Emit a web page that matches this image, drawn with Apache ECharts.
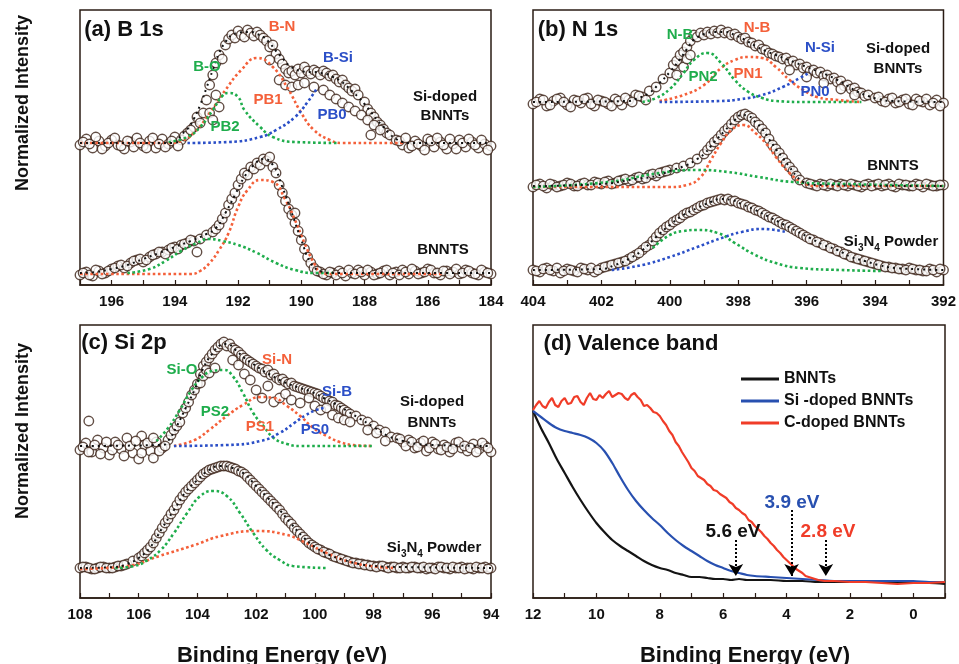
<!DOCTYPE html>
<html>
<head>
<meta charset="utf-8">
<script src="https://cdn.jsdelivr.net/npm/echarts@6/dist/echarts.min.js"></script>
<style>
  html, body { margin: 0; padding: 0; background: #fff; }
  #chart { width: 959px; height: 664px; }
</style>
</head>
<body>
<div id="chart"></div>
<script>
// ---- (a) B 1s ----
const bSiDoped = [[197.0,140],[196.8,146],[196.6,137],[196.4,144],[196.2,139],[196.0,145],[195.8,140],[195.6,136],[195.4,143],[195.2,147],[195.0,139],[194.8,144],[194.6,137],[194.4,146],[194.2,141],[194.0,148],[193.8,145],[193.6,152],[193.4,158],[193.3,168],[193.2,162],[193.1,172],[193.0,185],[192.9,200],[192.8,210],[192.7,222],[192.6,230],[192.5,226],[192.4,240],[192.3,246],[192.2,250],[192.1,247],[192.0,254],[191.9,250],[191.8,248],[191.7,255],[191.6,252],[191.5,249],[191.4,253],[191.3,250],[191.2,247],[191.1,244],[191.0,238],[190.9,240],[190.8,231],[190.7,226],[190.6,221],[190.5,216],[190.4,212],[190.3,214],[190.2,210],[190.1,216],[190.0,212],[189.9,218],[189.8,214],[189.7,211],[189.6,215],[189.5,213],[189.4,210],[189.3,214],[189.2,212],[189.1,209],[189.0,210],[188.9,206],[188.8,203],[188.7,205],[188.6,200],[188.5,197],[188.4,194],[188.3,196],[188.2,190],[188.0,183],[187.9,176],[187.8,172],[187.7,168],[187.6,163],[187.5,160],[187.4,156],[187.3,152],[187.2,150],[187.0,145],[186.8,140],[186.6,137],[186.4,144],[186.2,139],[186.0,146],[185.8,138],[185.6,143],[185.4,136],[185.2,141],[185.0,145],[184.8,138],[184.6,143],[184.4,137],[184.2,141],[184.0,139],
  [192.9,172],[192.8,165],[192.6,178],[192.7,190],[191.0,225],[190.7,205],[190.5,200],[190.3,198],[190.1,200],[189.9,202],[189.6,198],[189.3,195],[189.1,190],[188.9,186],[188.7,182],[188.5,178],[188.3,174],[188.1,170],[187.9,165],[187.7,160],[187.5,155],[187.8,150],
  [196.9,143],[196.7,141],[196.5,148],[196.3,136],[196.1,142],[195.9,147],[195.7,139],[195.5,144],[195.3,138],[195.1,142],[194.9,137],[194.7,147],[194.5,141],[194.3,138],[194.1,144],[193.9,139],[193.7,149],[193.5,155],[186.9,144],[186.7,147],[186.5,139],[186.3,141],[186.1,135],[185.9,144],[185.7,147],[185.5,140],[185.3,146],[185.1,136],[184.9,142],[184.7,146],[184.5,140],[184.3,145],[184.1,135]];
const bSiDopedFit = [[197,142],[194.0,142],[193.8,150],[193.6,156],[193.4,166],[193.2,180],[193.0,197],[192.8,215],[192.6,232],[192.4,243],[192.2,250],[192.0,252],[191.8,253],[191.6,253],[191.4,251],[191.2,248],[191.0,242],[190.8,234],[190.6,227],[190.4,220],[190.2,216],[190.0,214],[189.8,213],[189.6,213],[189.4,212],[189.2,211],[189.0,208],[188.8,205],[188.6,200],[188.4,194],[188.2,188],[188.0,181],[187.8,173],[187.6,165],[187.4,158],[187.2,151],[187.0,146],[186.8,143],[186.6,142],[184,142]];
const bPB2 = [[194.2,143],[193.6,148],[193.2,158],[192.8,175],[192.5,189],[192.3,192],[192.0,188],[191.8,175],[191.3,158],[190.9,148],[190.2,143],[188.8,142]];
const bPB1 = [[197,142],[194.2,142],[193.8,144],[193.4,152],[192.9,172],[192.4,195],[191.9,215],[191.4,227],[190.9,218],[190.4,195],[190.0,172],[189.6,155],[189.1,145],[188.7,142],[186.7,142]];
const bPB0 = [[193.6,142],[192.3,143],[191.3,148],[190.8,155],[190.2,168],[189.8,183],[189.5,197]];

const bBnnts = [[197.0,10],[196.8,13],[196.6,9],[196.4,14],[196.2,12],[196.0,16],[195.8,19],[195.6,17],[195.4,22],[195.2,25],[195.0,23],[194.8,28],[194.6,31],[194.4,33],[194.2,35],[194.0,38],[193.8,40],[193.6,42],[193.4,44],[193.3,33],[193.2,46],[193.0,50],[192.8,53],[192.7,56],[192.6,60],[192.5,66],[192.4,72],[192.3,80],[192.2,86],[192.1,92],[192.0,100],[191.9,106],[191.8,112],[191.7,110],[191.6,118],[191.5,116],[191.4,122],[191.3,120],[191.2,126],[191.1,124],[191.0,128],[190.9,118],[190.8,112],[190.7,100],[190.6,92],[190.5,84],[190.4,76],[190.3,70],[190.2,62],[190.1,54],[190.0,45],[189.9,36],[189.8,28],[189.7,22],[189.6,17],[189.4,13],[189.2,10],[189.0,12],[188.8,14],[188.6,9],[188.4,12],[188.2,15],[188.0,10],[187.8,13],[187.6,11],[187.4,14],[187.2,10],[187.0,13],[186.8,15],[186.6,11],[186.4,14],[186.2,12],[186.0,16],[185.8,12],[185.6,10],[185.4,14],[185.2,13],[185.0,11],[184.8,15],[184.6,12],[184.4,10],[184.2,13],[184.0,11],[190.2,72],
  [196.9,12],[196.7,10],[196.5,15],[196.3,11],[196.1,14],[195.9,17],[195.7,20],[195.5,19],[195.3,24],[195.1,26],[194.9,25],[194.7,30],[194.5,33],[194.3,31],[194.1,37],[193.9,36],[193.7,41],[193.5,45],[189.5,14],[189.3,11],[189.1,13],[188.9,10],[188.7,12],[188.5,15],[188.3,11],[188.1,13],[187.9,15],[187.7,10],[187.5,12],[187.3,15],[187.1,12],[186.9,10],[186.7,13],[186.5,16],[186.3,11],[186.1,13],[185.9,15],[185.7,12],[185.5,14],[185.3,11],[185.1,16],[184.9,12],[184.7,14],[184.5,11],[184.3,15],[184.1,12]];
const bBnntsFit = [[197,12],[196.5,13],[196,16],[195.5,20],[195,26],[194.5,32],[194,38],[193.5,44],[193,51],[192.7,57],[192.4,72],[192.1,90],[191.8,108],[191.5,120],[191.2,126],[190.9,120],[190.6,98],[190.3,72],[190.0,45],[189.7,22],[189.4,14],[189.0,12],[184,12]];
const bBnntsBN = [[197,11],[193.5,11],[193.2,14],[192.9,22],[192.6,35],[192.3,52],[192.0,78],[191.7,95],[191.3,105],[190.9,103],[190.5,85],[190.2,65],[189.9,42],[189.6,22],[189.4,13],[189.1,11],[185.5,11]];
const bBnntsBO = [[195.5,12],[194.8,16],[194.3,24],[193.8,34],[193.3,42],[192.9,46],[192.5,44],[192.0,40],[191.4,32],[190.8,22],[190.2,15],[189.6,12],[189.0,12]];

// ---- (b) N 1s ----
const nSiDoped = [[404.0,181],[403.8,186],[403.6,179],[403.4,184],[403.2,187],[403.0,180],[402.8,185],[402.6,182],[402.4,187],[402.2,179],[402.0,184],[401.8,181],[401.6,186],[401.4,180],[401.2,185],[401.0,190],[400.8,188],[400.6,194],[400.4,198],[400.2,206],[400.0,212],[399.9,220],[399.8,224],[399.7,230],[399.6,233],[399.5,238],[399.4,244],[399.3,250],[399.2,248],[399.1,252],[399.0,250],[398.9,253],[398.8,251],[398.7,254],[398.6,252],[398.5,255],[398.4,252],[398.3,253],[398.2,250],[398.1,251],[398.0,248],[397.9,246],[397.8,247],[397.7,243],[397.6,242],[397.5,239],[397.4,240],[397.3,236],[397.2,235],[397.1,232],[397.0,231],[396.9,229],[396.8,228],[396.7,226],[396.6,227],[396.5,223],[396.4,224],[396.3,220],[396.2,221],[396.1,217],[396.0,218],[395.9,214],[395.8,215],[395.7,212],[395.6,213],[395.5,209],[395.4,210],[395.3,206],[395.2,207],[395.1,203],[395.0,204],[394.9,199],[394.8,200],[394.7,196],[394.6,197],[394.5,193],[394.4,192],[394.3,189],[394.2,190],[394.0,187],[393.8,184],[393.6,186],[393.4,182],[393.2,185],[393.0,181],[392.8,186],[392.6,183],[392.4,180],[392.2,185],[392.0,182],
  [399.8,210],[399.6,218],[399.5,226],[399.4,230],[396.5,215],[396.0,208],[395.5,202],[395.0,196],[394.6,190],
  [403.9,183],[403.7,185],[403.5,180],[403.3,186],[403.1,183],[402.9,178],[402.7,184],[402.5,186],[402.3,181],[402.1,185],[401.9,183],[401.7,179],[401.5,184],[401.3,187],[401.1,183],[400.9,189],[400.7,185],[393.9,188],[393.7,183],[393.5,187],[393.3,183],[393.1,186],[392.9,180],[392.7,184],[392.5,186],[392.3,182],[392.1,179]];
const nSiDopedFit = [[404,183],[401.2,184],[401.0,186],[400.6,192],[400.3,202],[400.0,213],[399.7,226],[399.5,236],[399.3,245],[399.0,251],[398.7,253],[398.4,253],[398.1,250],[397.8,245],[397.5,239],[397.2,234],[396.9,230],[396.6,226],[396.3,222],[396.0,218],[395.7,214],[395.4,210],[395.1,205],[394.8,199],[394.5,193],[394.2,189],[393.9,186],[393.5,184],[392,183]];
const nPN2 = [[400.8,183],[400.4,187],[400.0,196],[399.6,212],[399.3,225],[398.9,232],[398.5,222],[398.1,205],[397.7,193],[397.3,187],[396.9,184],[396.0,183],[394.4,183]];
const nPN1 = [[400.3,184],[399.6,190],[399.0,200],[398.5,217],[398.1,225],[397.7,228],[397.3,227],[396.9,218],[396.5,205],[396.1,195],[395.7,188],[395.1,185],[394.4,183]];
const nPN0 = [[400.3,183],[398.5,184],[397.9,186],[397.3,190],[396.7,198],[396.2,207],[395.9,213]];

const nBnnts = [[404.0,98],[403.8,101],[403.6,97],[403.4,100],[403.2,99],[403.0,102],[402.8,99],[402.6,101],[402.4,100],[402.2,103],[402.0,101],[401.8,104],[401.6,102],[401.4,105],[401.2,104],[401.0,107],[400.8,106],[400.6,110],[400.4,109],[400.2,113],[400.0,115],[399.8,117],[399.6,119],[399.4,122],[399.2,126],[399.0,131],[398.9,135],[398.8,139],[398.7,143],[398.6,146],[398.5,150],[398.4,154],[398.3,157],[398.2,161],[398.1,165],[398.0,168],[397.9,170],[397.8,171],[397.7,169],[397.6,167],[397.5,163],[397.4,160],[397.3,156],[397.2,152],[397.1,146],[397.0,140],[396.9,136],[396.8,132],[396.7,127],[396.6,122],[396.5,118],[396.4,114],[396.3,109],[396.2,105],[396.0,102],[395.8,100],[395.6,101],[395.4,99],[395.2,100],[395.0,101],[394.8,99],[394.6,100],[394.4,98],[394.2,101],[394.0,100],[393.8,99],[393.6,101],[393.4,98],[393.2,100],[393.0,99],[392.8,101],[392.6,98],[392.4,100],[392.2,99],[392.0,100],
  [403.9,100],[403.7,99],[403.5,101],[403.3,98],[403.1,100],[402.9,101],[402.7,99],[402.5,102],[402.3,100],[402.1,102],[401.9,103],[401.7,101],[401.5,104],[401.3,106],[401.1,105],[400.9,108],[400.7,107],[400.5,111],[400.3,112],[400.1,114],[395.9,101],[395.7,99],[395.5,100],[395.3,101],[395.1,99],[394.9,100],[394.7,101],[394.5,99],[394.3,100],[394.1,99],[393.9,101],[393.7,100],[393.5,99],[393.3,101],[393.1,100],[392.9,99],[392.7,100],[392.5,101],[392.3,99],[392.1,100]];
const nBnntsFit = [[404,99],[402,101],[401,106],[400.4,109],[400,114],[399.5,120],[399.2,126],[399,131],[398.7,143],[398.4,154],[398.1,165],[397.9,170],[397.7,169],[397.5,163],[397.3,156],[397.1,146],[396.9,136],[396.7,127],[396.5,118],[396.3,109],[396.1,103],[395.8,100],[392,99]];
const nBnntsNB1 = [[404,98],[400.0,98],[399.5,100],[399.1,108],[398.8,125],[398.5,142],[398.2,155],[397.85,160],[397.5,152],[397.2,142],[396.9,128],[396.5,112],[396.1,102],[395.7,99],[392,99]];
const nBnntsNB2 = [[404,98],[401.8,103],[400.3,112],[399.2,115],[398.3,113],[397.4,108],[396.4,103],[394.9,101],[392,99]];

const nSi3N4 = [[404.0,15],[403.8,13],[403.6,17],[403.4,14],[403.2,12],[403.0,16],[402.8,14],[402.6,17],[402.4,15],[402.2,13],[402.0,17],[401.8,19],[401.6,21],[401.4,23],[401.2,26],[401.0,30],[400.8,35],[400.6,40],[400.5,44],[400.4,48],[400.3,52],[400.2,55],[400.1,58],[400.0,60],[399.9,63],[399.8,65],[399.7,67],[399.6,70],[399.5,72],[399.4,73],[399.3,75],[399.2,77],[399.1,79],[399.0,80],[398.9,82],[398.8,83],[398.7,84],[398.6,85],[398.5,86],[398.4,85],[398.3,86],[398.2,84],[398.1,84],[398.0,82],[397.9,81],[397.8,80],[397.7,78],[397.6,77],[397.5,75],[397.4,74],[397.3,72],[397.2,70],[397.1,68],[397.0,67],[396.9,65],[396.8,63],[396.7,61],[396.6,60],[396.5,58],[396.4,56],[396.3,54],[396.2,52],[396.1,50],[396.0,48],[395.8,45],[395.6,42],[395.4,39],[395.2,36],[395.0,33],[394.8,30],[394.6,27],[394.4,25],[394.2,23],[394.0,21],[393.8,19],[393.6,18],[393.4,17],[393.2,16],[393.0,17],[392.8,15],[392.6,14],[392.4,16],[392.2,13],[392.0,15],
  [403.9,14],[403.7,16],[403.5,15],[403.3,17],[403.1,14],[402.9,15],[402.7,13],[402.5,16],[402.3,17],[402.1,15],[401.9,18],[401.7,20],[401.5,22],[401.3,24],[401.1,28],[400.9,32],[400.7,38],[395.9,46],[395.7,43],[395.5,40],[395.3,37],[395.1,34],[394.9,31],[394.7,28],[394.5,26],[394.3,24],[394.1,22],[393.9,20],[393.7,18],[393.5,17],[393.3,16],[393.1,15],[392.9,16],[392.7,15],[392.5,14],[392.3,15],[392.1,16]];
const nSi3N4Fit = [[404,15],[402,16],[401.6,20],[401.2,26],[400.8,35],[400.4,48],[400.0,60],[399.6,70],[399.2,77],[398.8,83],[398.5,86],[398.2,85],[397.9,81],[397.5,75],[397.1,68],[396.7,61],[396.3,54],[395.9,47],[395.5,40],[395.1,35],[394.7,28],[394.3,24],[393.9,20],[393.4,17],[392,15]];
const nSi3N4NB = [[400.5,37],[400.0,50],[399.6,54],[399.2,55],[398.6,52],[398.1,42],[397.5,30],[396.9,22],[396.2,17],[395.0,15],[393.8,14]];
const nSi3N4NSi = [[401.7,15],[400.8,20],[400.0,28],[399.2,38],[398.4,48],[397.9,53],[397.3,56],[396.6,53]];

// ---- (c) Si 2p ----
const sSiDoped = [[108.0,148],[107.8,155],[107.7,177],[107.6,146],[107.4,158],[107.2,150],[107.0,143],[106.8,156],[106.6,149],[106.4,160],[106.2,145],[106.0,139],[105.9,162],[105.8,153],[105.6,147],[105.5,140],[105.4,156],[105.2,150],[105.0,158],[104.9,163],[104.8,168],[104.7,172],[104.6,176],[104.5,185],[104.4,190],[104.3,196],[104.2,203],[104.1,208],[104.0,214],[103.9,224],[103.8,232],[103.7,236],[103.6,240],[103.5,244],[103.4,248],[103.3,251],[103.2,254],[103.1,256],[103.0,252],[102.9,254],[102.8,250],[102.7,248],[102.6,246],[102.5,243],[102.4,240],[102.3,238],[102.2,236],[102.1,234],[102.0,232],[101.9,230],[101.8,229],[101.7,226],[101.6,228],[101.5,223],[101.4,224],[101.3,220],[101.2,218],[101.1,219],[101.0,216],[100.9,214],[100.8,215],[100.7,212],[100.6,211],[100.5,210],[100.4,209],[100.3,208],[100.2,207],[100.1,206],[100.0,205],[99.9,204],[99.8,202],[99.7,200],[99.6,199],[99.5,197],[99.4,196],[99.3,193],[99.2,192],[99.1,190],[99.0,188],[98.9,186],[98.8,184],[98.6,182],[98.4,178],[98.2,176],[98.0,172],[97.8,168],[97.6,166],[97.4,161],[97.2,160],[97.0,156],[96.8,158],[96.6,150],[96.4,155],[96.2,147],[96.0,156],[95.8,149],[95.6,153],[95.4,146],[95.2,155],[95.0,150],[94.8,147],[94.6,154],[94.4,149],[94.2,152],[94.0,146],
  [103.9,215],[103.8,222],[103.7,228],[103.6,225],[103.4,230],[102.8,238],[102.6,233],[102.4,224],[102.2,218],[102.0,208],[101.8,200],[101.6,212],[101.4,196],[101.2,200],[101.0,204],[100.8,198],[100.5,195],[100.2,200],[100.0,192],[99.8,188],[99.6,190],[99.4,183],[99.2,180],[99.0,178],[98.8,176],[98.2,168],[97.9,165],[97.6,157],
  [107.9,151],[107.7,146],[107.5,153],[107.3,144],[107.1,156],[106.9,148],[106.7,153],[106.5,142],[106.3,152],[106.1,157],[105.9,145],[105.7,155],[105.5,160],[105.3,147],[105.1,152],[97.1,159],[96.9,152],[96.7,156],[96.5,151],[96.3,157],[96.1,150],[95.9,154],[95.7,148],[95.5,151],[95.3,149],[95.1,156],[94.9,152],[94.7,150],[94.5,146],[94.3,155],[94.1,150]];
const sSiDopedFit = [[108,152],[105.2,153],[105.0,157],[104.7,172],[104.4,190],[104.1,208],[103.8,230],[103.5,244],[103.2,253],[103.0,254],[102.7,248],[102.4,240],[102.1,234],[101.8,228],[101.5,223],[101.2,218],[100.9,214],[100.5,210],[100.1,206],[99.7,200],[99.3,194],[98.9,187],[98.5,180],[98.0,171],[97.5,162],[97.0,157],[96.5,154],[96,153],[94,152]];
const sPS2 = [[105.4,157],[105.0,170],[104.6,188],[104.2,208],[103.8,222],[103.5,227],[103.1,228],[102.8,222],[102.45,205],[102.1,185],[101.75,172],[101.4,160],[100.95,154],[100.5,152],[98.0,152]];
const sPS1 = [[104.8,152],[104.1,158],[103.6,168],[103.0,182],[102.45,193],[101.85,201],[101.4,200],[100.95,192],[100.5,182],[100.05,170],[99.6,162],[99.15,156],[98.7,153],[98.0,152]];
const sPS0 = [[104.8,152],[103.0,153],[101.85,157],[101.2,165],[100.7,175],[100.3,183],[99.95,188],[99.7,190]];

const sSi3N4 = [[108.0,30],[107.8,31],[107.6,29],[107.4,30],[107.2,31],[107.0,30],[106.8,31],[106.6,32],[106.4,34],[106.2,37],[106.0,40],[105.9,42],[105.8,45],[105.7,48],[105.6,51],[105.5,55],[105.4,60],[105.3,65],[105.2,70],[105.1,75],[105.0,79],[104.9,84],[104.8,88],[104.7,93],[104.6,98],[104.5,102],[104.4,106],[104.3,109],[104.2,112],[104.1,115],[104.0,118],[103.9,121],[103.8,124],[103.7,126],[103.6,128],[103.5,129],[103.4,130],[103.3,131],[103.2,132],[103.1,132],[103.0,132],[102.9,131],[102.8,130],[102.7,129],[102.6,127],[102.5,126],[102.4,124],[102.3,121],[102.2,118],[102.1,115],[102.0,112],[101.9,109],[101.8,106],[101.7,103],[101.6,100],[101.5,97],[101.4,94],[101.3,91],[101.2,88],[101.1,84],[101.0,80],[100.9,77],[100.8,74],[100.7,70],[100.6,67],[100.5,64],[100.4,61],[100.3,58],[100.2,55],[100.1,53],[100.0,51],[99.8,48],[99.6,45],[99.4,42],[99.2,40],[99.0,38],[98.8,36],[98.6,35],[98.4,34],[98.2,33],[98.0,32],[97.8,32],[97.6,31],[97.4,31],[97.2,30],[97.0,31],[96.8,30],[96.6,31],[96.4,30],[96.2,29],[96.0,30],[95.8,31],[95.6,30],[95.4,29],[95.2,30],[95.0,31],[94.8,30],[94.6,29],[94.4,30],[94.2,31],[94.0,30],
  [107.9,31],[107.7,30],[107.5,29],[107.3,31],[107.1,30],[106.9,30],[106.7,32],[106.5,33],[99.9,49],[99.7,46],[99.5,44],[99.3,41],[99.1,39],[98.9,37],[98.7,35],[98.5,34],[98.3,33],[98.1,32],[97.9,31],[97.7,32],[97.5,30],[97.3,31],[97.1,30],[96.9,30],[96.7,31],[96.5,30],[96.3,31],[96.1,30],[95.9,29],[95.7,31],[95.5,30],[95.3,31],[95.1,30],[94.9,29],[94.7,30],[94.5,31],[94.3,30],[94.1,29]];
const sSi3N4Fit = [[108,30],[106.8,31],[106.4,34],[106.0,40],[105.6,51],[105.2,70],[104.8,88],[104.4,106],[104.0,118],[103.6,128],[103.2,132],[102.8,130],[102.4,124],[102.0,112],[101.6,100],[101.2,88],[100.8,74],[100.4,61],[100.0,51],[99.5,43],[99.0,38],[98.5,34],[98.0,32],[97,31],[94,30]];
const sSi3N4SiO = [[106.8,30],[106.15,32],[105.7,38],[105.25,48],[104.8,65],[104.35,85],[103.9,102],[103.45,107],[103.0,102],[102.55,85],[102.1,65],[101.65,48],[101.2,38],[100.75,32],[99.6,30]];
const sSi3N4SiN = [[108,29],[106.4,32],[105.3,42],[104.1,53],[103.2,62],[102.0,67],[100.95,63],[100.3,55],[99.6,45],[98.9,37],[98.1,32],[97.3,30]];

// ---- (d) Valence band ----
const vbBnnts = [[12,187],[11.75,170],[11.5,155],[11.25,139],[11,125],[10.75,111],[10.5,98],[10.25,86],[10,75],[9.75,66],[9.5,58],[9.25,52],[9,47],[8.75,42],[8.5,37],[8.25,33],[8,30],[7.75,28],[7.5,25],[7.25,23],[7,21],[6.75,21],[6.5,20],[6.25,19],[6,19],[5.75,18],[5.5,19],[5.25,18],[5,18],[4.5,18],[4,17],[3.5,17],[3,16],[2.5,16],[2,16],[1.5,17],[1,16],[0.5,16],[0,15],[-0.5,15],[-1,14]];
const vbSiDoped = [[12,187],[11.75,181],[11.5,175],[11.25,170],[11,167],[10.75,165],[10.5,163],[10.25,160],[10,155],[9.75,147],[9.5,135],[9.25,121],[9,108],[8.75,97],[8.5,88],[8.25,80],[8,73],[7.75,65],[7.5,58],[7.25,52],[7,47],[6.75,42],[6.5,37],[6.25,33],[6,30],[5.75,27],[5.5,25],[5.25,23],[5,22],[4.5,21],[4,20],[3.5,19],[3,18],[2.5,17],[2,17],[1.5,17],[1,17],[0.5,17],[0,17],[-0.5,16],[-1,16]];
const vbCDoped = [[12,188],[11.9,193],[11.8,197],[11.7,192],[11.6,190],[11.5,196],[11.4,200],[11.3,193],[11.2,191],[11.1,197],[11.0,200],[10.9,194],[10.8,195],[10.7,201],[10.6,202],[10.5,196],[10.4,193],[10.3,200],[10.2,205],[10.1,199],[10.0,198],[9.9,203],[9.8,200],[9.7,204],[9.6,207],[9.5,201],[9.4,203],[9.3,205],[9.2,204],[9.1,200],[9.0,198],[8.9,203],[8.8,205],[8.7,201],[8.6,198],[8.5,192],[8.4,193],[8.3,190],[8.2,186],[8.1,185],[8.0,182],[7.9,177],[7.8,173],[7.7,167],[7.6,163],[7.5,156],[7.4,152],[7.3,146],[7.2,141],[7.1,136],[7.0,130],[6.9,127],[6.8,122],[6.7,120],[6.6,118],[6.5,114],[6.4,112],[6.3,108],[6.2,107],[6.1,104],[6.0,102],[5.9,100],[5.8,96],[5.7,94],[5.6,90],[5.5,88],[5.4,85],[5.3,83],[5.2,78],[5.1,76],[5.0,72],[4.9,69],[4.8,66],[4.7,62],[4.6,59],[4.5,55],[4.4,52],[4.3,48],[4.2,45],[4.1,41],[4.0,38],[3.9,35],[3.8,32],[3.7,29],[3.6,27],[3.5,25],[3.4,22],[3.3,21],[3.2,20],[3.0,18],[2.8,17],[2.5,17],[2.0,16],[1.5,16],[1.0,15],[0.5,14],[0.0,15],[-0.5,15],[-1,16]];
const vbNames = ['BNNTs', 'Si -doped BNNTs', 'C-doped BNNTs'];
const vbOnsets = [5.6, 3.84, 2.76];
const vbArrowTop = [58, 88, 58];
const vbArrowBottom = [22, 22, 22];

// ---- styles ----
const FONT = "'Liberation Sans', Arial, sans-serif";
const FRAME = '#2a1c14';
const RED = '#f4603a';
const GREEN = '#1fad4c';
const BLUE = '#2b4fc7';

const grids = [
  { left: 80, top: 10, width: 411, height: 275 },
  { left: 533, top: 10, width: 411, height: 275 },
  { left: 80, top: 325, width: 411, height: 273 },
  { left: 533, top: 325, width: 412, height: 273 }
];
const xRanges = [[184, 197], [392, 404], [94, 108], [-1, 12]];
const yMax = [275, 275, 273, 273];

function xAxis(i) {
  return {
    type: 'value', gridIndex: i, min: xRanges[i][0], max: xRanges[i][1], inverse: true, interval: 1,
    axisLine: { show: true, lineStyle: { color: FRAME, width: 1.5 } },
    axisTick: { show: true, inside: true, length: 5, lineStyle: { color: FRAME, width: 1.2 } },
    splitLine: { show: false },
    axisLabel: {
      margin: 9, color: '#111', fontFamily: FONT, fontWeight: 'bold', fontSize: 15,
      formatter: v => (Math.abs(v % 2) < 1e-6 ? String(Math.round(v)) : '')
    }
  };
}
function yAxis(i) {
  return { type: 'value', gridIndex: i, min: 0, max: yMax[i], show: false };
}
function scat(data, gi) {
  return {
    type: 'scatter', xAxisIndex: gi, yAxisIndex: gi, data: data, symbol: 'circle', symbolSize: 9.5, z: 2,
    itemStyle: { color: '#fff', borderColor: '#3b2217', borderWidth: 1.4 }, silent: true
  };
}
function fit(data, gi, color, black) {
  return {
    type: 'line', xAxisIndex: gi, yAxisIndex: gi, data: data, showSymbol: false, smooth: true, z: black ? 5 : 4,
    lineStyle: { color: color, width: black ? 2 : 2.6, type: black ? [2, 4] : [2.6, 2.6] }, silent: true
  };
}
function txt(x, y, text, color, size, extra) {
  return Object.assign({
    type: 'text', x: x, y: y, z: 20,
    style: {
      text: text, fill: color, font: 'bold ' + size + 'px ' + FONT,
      textAlign: 'center', textVerticalAlign: 'middle', verticalAlign: 'middle'
    }
  }, extra || {});
}
function sub(x, y, size) {
  return {
    type: 'text', x: x, y: y, z: 20,
    style: {
      text: 'Si{s|3}N{s|4} Powder', fill: '#111', font: 'bold ' + size + 'px ' + FONT,
      textAlign: 'center', textVerticalAlign: 'middle', verticalAlign: 'middle',
      rich: { s: { font: 'bold 10px ' + FONT, fill: '#111', verticalAlign: 'bottom', padding: [0, 0, -4, 0] } }
    }
  };
}

const series = [
  scat(bSiDoped, 0), scat(bBnnts, 0),
  fit(bPB1, 0, RED), fit(bPB2, 0, GREEN), fit(bPB0, 0, BLUE), fit(bSiDopedFit, 0, '#111', true),
  fit(bBnntsBN, 0, RED), fit(bBnntsBO, 0, GREEN), fit(bBnntsFit, 0, '#111', true),

  scat(nSiDoped, 1), scat(nBnnts, 1), scat(nSi3N4, 1),
  fit(nPN1, 1, RED), fit(nPN2, 1, GREEN), fit(nPN0, 1, BLUE), fit(nSiDopedFit, 1, '#111', true),
  fit(nBnntsNB1, 1, RED), fit(nBnntsNB2, 1, GREEN), fit(nBnntsFit, 1, '#111', true),
  fit(nSi3N4NB, 1, GREEN), fit(nSi3N4NSi, 1, BLUE), fit(nSi3N4Fit, 1, '#111', true),

  scat(sSiDoped, 2), scat(sSi3N4, 2),
  fit(sPS1, 2, RED), fit(sPS2, 2, GREEN), fit(sPS0, 2, BLUE), fit(sSiDopedFit, 2, '#111', true),
  fit(sSi3N4SiN, 2, RED), fit(sSi3N4SiO, 2, GREEN), fit(sSi3N4Fit, 2, '#111', true),

  { name: vbNames[0], type: 'line', xAxisIndex: 3, yAxisIndex: 3, data: vbBnnts, showSymbol: false, smooth: 0.3,
    lineStyle: { color: '#141414', width: 2.2 }, itemStyle: { color: '#141414' } },
  { name: vbNames[1], type: 'line', xAxisIndex: 3, yAxisIndex: 3, data: vbSiDoped, showSymbol: false, smooth: 0.3,
    lineStyle: { color: '#2850b0', width: 2.2 }, itemStyle: { color: '#2850b0' } },
  { name: vbNames[2], type: 'line', xAxisIndex: 3, yAxisIndex: 3, data: vbCDoped, showSymbol: false,
    lineStyle: { color: '#f03c28', width: 2.2 }, itemStyle: { color: '#f03c28' } },
  { type: 'line', xAxisIndex: 3, yAxisIndex: 3, data: [], silent: true,
    markLine: {
      silent: true, symbol: ['none', 'arrow'], symbolSize: [11, 12], label: { show: false },
      lineStyle: { color: '#000', width: 2, type: [2, 2] },
      data: vbOnsets.map((e, i) => [{ coord: [e, vbArrowTop[i]] }, { coord: [e, vbArrowBottom[i]] }])
    } }
];

const graphic = [
  txt(23, 103, 'Normalized Intensity', '#111', 18, { rotation: Math.PI / 2 }),
  txt(23, 431, 'Normalized Intensity', '#111', 18, { rotation: Math.PI / 2 }),
  txt(282, 656, 'Binding Energy (eV)', '#111', 22),
  txt(745, 656, 'Binding Energy (eV)', '#111', 22),

  txt(124, 30, '(a) B 1s', '#111', 22),
  txt(578, 30, '(b) N 1s', '#111', 22),
  txt(124, 343, '(c) Si 2p', '#111', 22),
  txt(631, 344, '(d) Valence band', '#111', 22),

  txt(445, 97, 'Si-doped', '#111', 15), txt(445, 116, 'BNNTs', '#111', 15),
  txt(443, 250, 'BNNTS', '#111', 15),
  txt(898, 49, 'Si-doped', '#111', 15), txt(898, 69, 'BNNTs', '#111', 15),
  txt(893, 166, 'BNNTS', '#111', 15),
  sub(891, 242, 15),
  txt(432, 402, 'Si-doped', '#111', 15), txt(432, 423, 'BNNTs', '#111', 15),
  sub(434, 548, 15),

  txt(282, 27, 'B-N', RED, 15), txt(207, 67, 'B-O', GREEN, 15), txt(338, 58, 'B-Si', BLUE, 15),
  txt(268, 100, 'PB1', RED, 15), txt(225, 127, 'PB2', GREEN, 15), txt(332, 115, 'PB0', BLUE, 15),

  txt(680, 35, 'N-B', GREEN, 15), txt(757, 28, 'N-B', RED, 15), txt(820, 48, 'N-Si', BLUE, 15),
  txt(703, 77, 'PN2', GREEN, 15), txt(748, 74, 'PN1', RED, 15), txt(815, 92, 'PN0', BLUE, 15),

  txt(182, 370, 'Si-O', GREEN, 15), txt(277, 360, 'Si-N', RED, 15), txt(337, 392, 'Si-B', BLUE, 15),
  txt(215, 412, 'PS2', GREEN, 15), txt(260, 427, 'PS1', RED, 15), txt(315, 430, 'PS0', BLUE, 15),

  txt(733, 532, '5.6 eV', '#111', 19),
  txt(792, 503, '3.9 eV', '#2850b0', 19),
  txt(828, 532, '2.8 eV', '#f03c28', 19)
];

const chart = echarts.init(document.getElementById('chart'), null, { renderer: 'canvas' });
chart.setOption({
  animation: false,
  backgroundColor: '#fff',
  grid: grids.map(g => Object.assign({ show: true, borderColor: FRAME, borderWidth: 1.5, backgroundColor: 'transparent' }, g)),
  xAxis: [0, 1, 2, 3].map(xAxis),
  yAxis: [0, 1, 2, 3].map(yAxis),
  legend: {
    data: vbNames, orient: 'vertical', left: 736, top: 366, icon: 'rect',
    itemWidth: 38, itemHeight: 3, itemGap: 6,
    textStyle: { fontFamily: FONT, fontWeight: 'bold', fontSize: 16, color: '#111', lineHeight: 16 }
  },
  graphic: graphic,
  series: series
});
</script>
</body>
</html>
